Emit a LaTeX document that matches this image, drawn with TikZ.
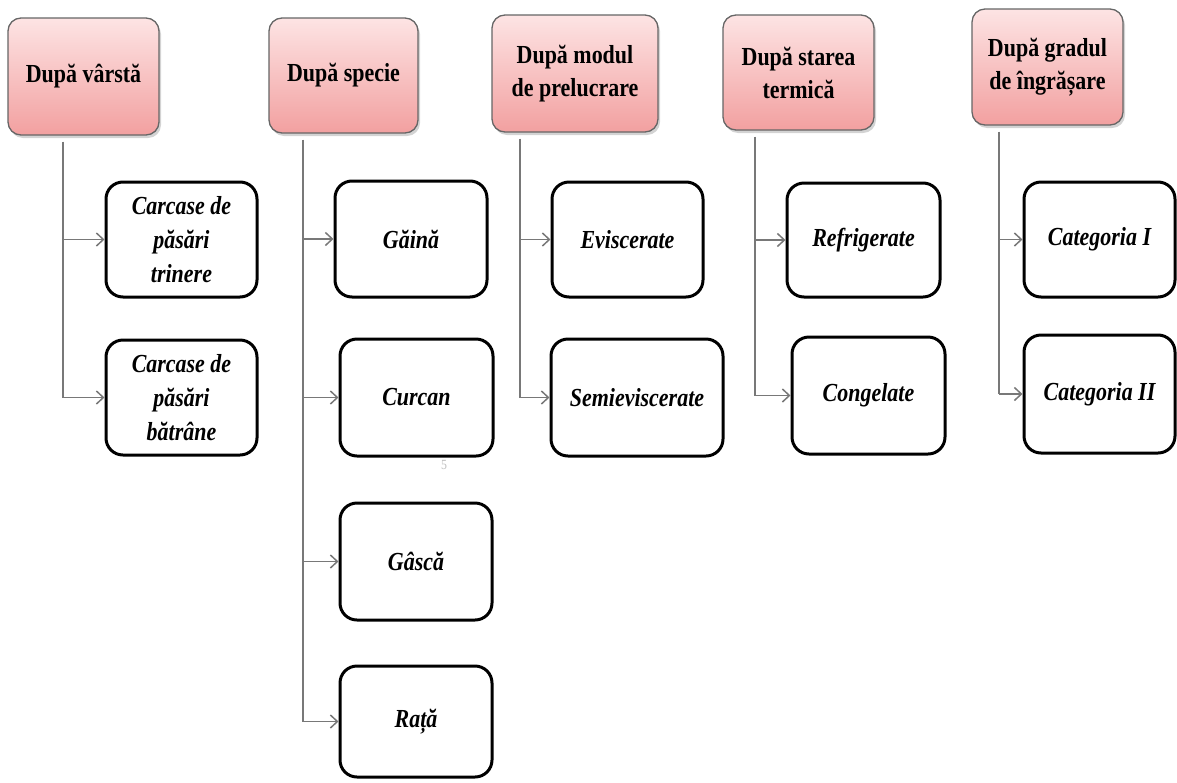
\documentclass[tikz,border=0pt]{standalone}
\usepackage{fontspec}
\setmainfont{Liberation Serif}[FakeStretch=0.845]
\usetikzlibrary{arrows.meta,shadows,calc}
\definecolor{pinktop}{RGB}{253,228,228}
\definecolor{pinkbot}{RGB}{242,160,160}
\definecolor{linegray}{RGB}{120,120,120}
\begin{document}
\begin{tikzpicture}[x=1pt,y=-1pt,
  head/.style={draw=black!60, line width=1.3pt, rounded corners=13pt,
    top color=pinktop, bottom color=pinkbot,
    drop shadow={shadow xshift=2pt,shadow yshift=-3pt,opacity=0.35},
    align=center, font=\fontsize{26}{33}\selectfont\bfseries, inner sep=0pt},
  leaf/.style={draw=black, line width=3pt, rounded corners=17pt, fill=white,
    align=center, font=\fontsize{26}{34}\selectfont\bfseries\itshape, inner sep=0pt},
  conn/.style={draw=linegray, line width=1.5pt},
  arr/.style={conn, -{Straight Barb[length=7pt,width=13pt]}}]
\useasboundingbox (0,0) rectangle (1177,782);

% headers
\node[head, minimum width=151pt, minimum height=117pt] (h1) at (83.5,76.5) {După vârstă};
\node[head, minimum width=149pt, minimum height=115pt] (h2) at (343.5,75.5) {După specie};
\node[head, minimum width=166pt, minimum height=117pt] (h3) at (575,73.5) {După modul\\de prelucrare};
\node[head, minimum width=151pt, minimum height=115pt] (h4) at (798.5,72.5) {După starea\\termică};
\node[head, minimum width=151pt, minimum height=116pt] (h5) at (1047.5,67) {După gradul\\de îngrășare};

% leaves
\node[leaf, minimum width=151pt, minimum height=115pt] (a1) at (181.5,239.5) {Carcase de\\păsări\\trinere};
\node[leaf, minimum width=151pt, minimum height=115pt] (a2) at (181.5,397.5) {Carcase de\\păsări\\bătrâne};
\node[leaf, minimum width=152pt, minimum height=116pt] (b1) at (411,239) {Găină};
\node[leaf, minimum width=153pt, minimum height=117pt] (b2) at (416.5,397.5) {Curcan};
\node[leaf, minimum width=152pt, minimum height=117pt] (b3) at (416,561.5) {Gâscă};
\node[leaf, minimum width=152pt, minimum height=111pt] (b4) at (416,721.5) {Rață};
\node[leaf, minimum width=151pt, minimum height=115pt] (c1) at (627.5,239.5) {Eviscerate};
\node[leaf, minimum width=172pt, minimum height=117pt] (c2) at (637,397.5) {Semieviscerate};
\node[leaf, minimum width=153pt, minimum height=114pt] (d1) at (863.5,240) {Refrigerate};
\node[leaf, minimum width=153pt, minimum height=117pt] (d2) at (868.5,395.5) {Congelate};
\node[leaf, minimum width=151pt, minimum height=115pt] (e1) at (1099.5,239.5) {Categoria I};
\node[leaf, minimum width=151pt, minimum height=118pt] (e2) at (1099.5,394) {Categoria II};

\node[text=black!25, font=\fontsize{14}{14}\selectfont] (five) at (444,465) {5};

% trunk coordinates
\coordinate (v1) at (63,0);
\coordinate (v2) at (303,0);
\coordinate (v3) at (520,0);
\coordinate (v4) at (755,0);
\coordinate (v5) at (999,0);

% connectors
\draw[conn] ($(h1.south -| v1)+(0,6)$) -- (v1 |- a2.west);
\draw[arr] (v1 |- a1.west) -- (a1.west);
\draw[arr] (v1 |- a2.west) -- (a2.west);

\draw[conn] ($(h2.south -| v2)+(0,6)$) -- (v2 |- b4.west);
\draw[arr] (v2 |- b1.west) -- (b1.west);
\draw[arr] (v2 |- b2.west) -- (b2.west);
\draw[arr] (v2 |- b3.west) -- (b3.west);
\draw[arr] (v2 |- b4.west) -- (b4.west);

\draw[conn] ($(h3.south -| v3)+(0,6)$) -- (v3 |- c2.west);
\draw[arr] (v3 |- c1.west) -- (c1.west);
\draw[arr] (v3 |- c2.west) -- (c2.west);

\draw[conn] ($(h4.south -| v4)+(0,6)$) -- (v4 |- d2.west);
\draw[arr] (v4 |- d1.west) -- (d1.west);
\draw[arr] (v4 |- d2.west) -- (d2.west);

\draw[conn] ($(h5.south -| v5)+(0,6)$) -- (v5 |- e2.west);
\draw[arr] (v5 |- e1.west) -- (e1.west);
\draw[arr] (v5 |- e2.west) -- (e2.west);
\end{tikzpicture}
\end{document}
